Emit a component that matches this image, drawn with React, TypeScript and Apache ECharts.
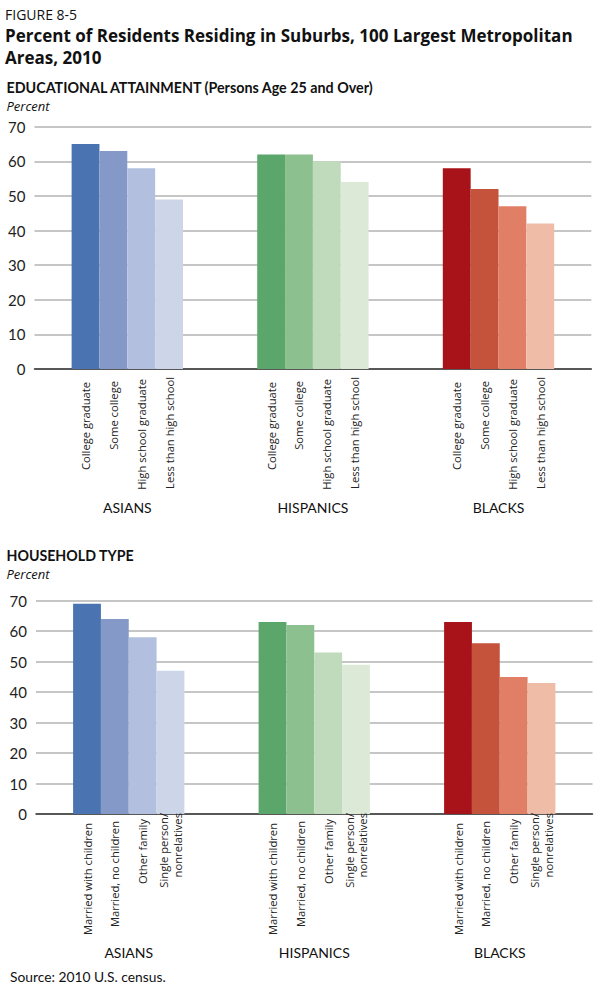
import React, { useEffect, useRef } from "react";
import * as echarts from "echarts";

const groups = ["ASIANS", "HISPANICS", "BLACKS"];

const eduLabels = ["College graduate", "Some college", "High school graduate", "Less than high school"];
const eduAsians = [65, 63, 58, 49];
const eduHispanics = [62, 62, 60, 54];
const eduBlacks = [58, 52, 47, 42];

const hhLabels = ["Married with children", "Married, no children", "Other family", "Single person/\nnonrelatives"];
const hhAsians = [69, 64, 58, 47];
const hhHispanics = [63, 62, 53, 49];
const hhBlacks = [63, 56, 45, 43];

const asianColors = ["#4a73b1", "#8499c8", "#b2bfde", "#ccd6e8"];
const hispanicColors = ["#5aa66b", "#8cc08e", "#c0dbbb", "#dce9d7"];
const blackColors = ["#a81219", "#c5533b", "#e07f66", "#efbca8"];

const LATO = "Lato";
const OPEN = "Open Sans";

export default function App() {
  const ref = useRef<HTMLDivElement>(null);
  useEffect(() => {
    const chart = echarts.init(ref.current!, null, { renderer: "svg" });
    const groupColors = [asianColors, hispanicColors, blackColors];
    const charts = [
      { labels: eduLabels, values: [eduAsians, eduHispanics, eduBlacks], offsets: [-6, -5, -3, -1] },
      { labels: hhLabels, values: [hhAsians, hhHispanics, hhBlacks], offsets: [-2, 0, 2, 8] },
    ];
    const series: any[] = [];
    charts.forEach((c, ci) => {
      for (let i = 0; i < 4; i++) {
        series.push({
          type: "bar",
          xAxisIndex: ci,
          yAxisIndex: ci,
          barGap: "0%",
          barCategoryGap: "40%",
          data: c.values.map((vals, g) => ({ value: vals[i], itemStyle: { color: groupColors[g][i] } })),
          label: {
            show: true,
            position: "bottom",
            distance: 7,
            rotate: 90,
            align: "right",
            verticalAlign: "middle",
            offset: [c.offsets[i], 0],
            fontFamily: OPEN,
            fontSize: 11.2,
            lineHeight: 13.5,
            color: "#222",
            formatter: c.labels[i],
          },
        });
      }
    });
    const xAxis = (gi: number) => ({
      type: "category",
      gridIndex: gi,
      data: groups,
      axisTick: { show: false },
      axisLine: { lineStyle: { color: "#333", width: 1.5 } },
      axisLabel: { margin: 131, fontFamily: LATO, fontSize: 14, color: "#111" },
    });
    const yAxis = (gi: number) => ({
      type: "value",
      gridIndex: gi,
      min: 0,
      max: 70,
      interval: 10,
      axisLine: { show: false },
      axisTick: { show: false },
      splitLine: { lineStyle: { color: "#b3b3b3", width: 1.5 } },
      axisLabel: { margin: 9, fontFamily: LATO, fontSize: 15, color: "#222" },
    });
    const txt = (
      text: string,
      x: number,
      y: number,
      size: number,
      family: string,
      weight: any = "normal",
      style: any = "normal"
    ) => ({
      type: "text",
      x,
      y,
      style: {
        text,
        fontFamily: family,
        fontSize: size,
        fontWeight: weight,
        fontStyle: style,
        fill: "#111",
        verticalAlign: "middle",
        align: "left",
      },
    });
    chart.setOption({
      animation: false,
      grid: [
        { left: 34.5, top: 126.7, width: 556.8, height: 242.3 },
        { left: 36, top: 600.7, width: 556.5, height: 213.3 },
      ],
      xAxis: [xAxis(0), xAxis(1)],
      yAxis: [yAxis(0), yAxis(1)],
      series,
      graphic: [
        txt("FIGURE 8-5", 5, 14.5, 14, OPEN),
        txt("Percent of Residents Residing in Suburbs, 100 Largest Metropolitan", 5, 35, 17, OPEN, "bold"),
        txt("Areas, 2010", 5, 57, 17, OPEN, "bold"),
        txt("EDUCATIONAL ATTAINMENT (Persons Age 25 and Over)", 6.5, 87.5, 14.3, LATO, "bold"),
        txt("Percent", 6.5, 106, 13, OPEN, "normal", "italic"),
        txt("HOUSEHOLD TYPE", 6.5, 555.5, 14.2, LATO, "bold"),
        txt("Percent", 6.5, 573.5, 13, OPEN, "normal", "italic"),
        txt("Source: 2010 U.S. census.", 10, 976, 13.8, LATO),
      ],
    });
    return () => chart.dispose();
  }, []);
  return (
    <div
      ref={ref}
      style={{ position: "absolute", left: 0, top: 0, width: 600, height: 987, background: "#fff" }}
    />
  );
}
